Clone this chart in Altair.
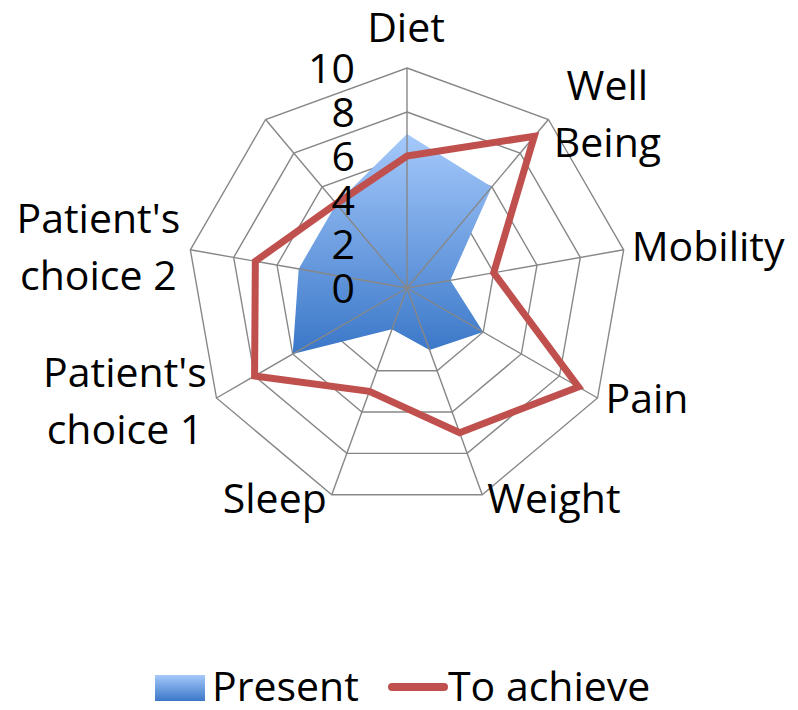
import altair as alt
import pandas as pd
import numpy as np

# ---------------- data ----------------
categories = ["Diet", "Well Being", "Mobility", "Pain", "Weight", "Sleep",
              "Patient's choice 1", "Patient's choice 2", ""]
present = [7, 6, 2, 4, 3, 2, 6, 5, 5]
to_achieve = [6, 9, 4, 9, 7, 5, 8, 7, 5]
tick_values = [0, 2, 4, 6, 8, 10]
series_names = ["Present", "To achieve"]

# ---------------- layout ----------------
W, H = 782, 694
K = 22.0            # pixels per unit
CX, CY = 399, 280   # centre in plot coords
xdom = [-CX / K, (W - CX) / K]
ydom = [-(H - CY) / K, CY / K]
FONT = "Open Sans"
FS = 41
n = len(categories)
ang = np.arange(n) * 2 * np.pi / n
rmax = max(tick_values)

# label placement: align, pixel offset from outer vertex (dx, dy to baseline)
label_layout = {
    "Diet": ("center", -1, -26),
    "Well Being": ("center", 59, -19.5),
    "Mobility": ("left", 8, 11),
    "Pain": ("left", 8, 15),
    "Weight": ("left", 5, 18),
    "Sleep": ("right", -5, 18),
    "Patient's choice 1": ("center", -91.5, -11),
    "Patient's choice 2": ("center", -92, -17),
}
wrapped = {"Well Being": "Well\nBeing",
           "Patient's choice 1": "Patient's\nchoice 1",
           "Patient's choice 2": "Patient's\nchoice 2"}

xs = alt.Scale(domain=xdom, nice=False, zero=False)
ys = alt.Scale(domain=ydom, nice=False, zero=False)
X = lambda f: alt.X(f, type="quantitative", scale=xs, axis=None)
Y = lambda f: alt.Y(f, type="quantitative", scale=ys, axis=None)

# series table
rows = []
for name, vals in zip(series_names, [present, to_achieve]):
    for k, v in enumerate(vals):
        rows.append({"series": name, "k": k, "cat": categories[k], "v": v,
                     "x": v * np.sin(ang[k]), "y": v * np.cos(ang[k])})
sdf = pd.DataFrame(rows)

# grid rings
grid_rows = []
for lv in tick_values[1:]:
    for k in range(n):
        grid_rows.append({"lv": lv, "k": k, "x": lv * np.sin(ang[k]), "y": lv * np.cos(ang[k])})
gdf = pd.DataFrame(grid_rows)

spoke_df = pd.DataFrame({"k": range(n), "x0": 0.0, "y0": 0.0,
                         "x": rmax * np.sin(ang), "y": rmax * np.cos(ang)})

grid_color = "#878787"
rings = alt.Chart(gdf).mark_line(interpolate="linear-closed", color=grid_color, strokeWidth=1.4).encode(
    x=X("x"), y=Y("y"), detail="lv:N", order="k:Q")

spokes = alt.Chart(spoke_df).mark_rule(color=grid_color, strokeWidth=1.4).encode(
    x=X("x0"), y=Y("y0"), x2="x", y2="y")

blue_grad = alt.Gradient(gradient="linear",
                         stops=[alt.GradientStop(color="#A5C9FB", offset=0),
                                alt.GradientStop(color="#3A77C8", offset=1)],
                         x1=0, x2=0, y1=0, y2=1)

area = alt.Chart(sdf[sdf.series == "Present"]).mark_line(
    interpolate="linear-closed", fill=blue_grad, stroke=None, strokeWidth=0).encode(
    x=X("x"), y=Y("y"), order="k:Q")

red = alt.Chart(sdf[sdf.series == "To achieve"]).mark_line(
    interpolate="linear-closed", color="#C0504D", strokeWidth=7, strokeJoin="miter").encode(
    x=X("x"), y=Y("y"), order="k:Q")

tick_df = pd.DataFrame({"v": tick_values, "x": 0.0, "lab": [str(t) for t in tick_values]})
ticks = alt.Chart(tick_df).mark_text(align="right", baseline="alphabetic", dx=-52, dy=14.5,
                                     font=FONT, fontSize=FS, color="black").encode(
    x=X("x"), y=Y("v"), text="lab:N")

lab_layers = []
for k, c in enumerate(categories):
    if c not in label_layout:
        continue
    al, dxp, dyp = label_layout[c]
    vx = rmax * np.sin(ang[k]) + dxp / K
    vy = rmax * np.cos(ang[k]) - dyp / K
    d = pd.DataFrame({"x": [vx], "y": [vy], "t": [wrapped.get(c, c)]})
    lab_layers.append(alt.Chart(d).mark_text(align=al, baseline="alphabetic", font=FONT, fontSize=FS,
                                             lineBreak="\n", lineHeight=57, color="black").encode(
        x=X("x"), y=Y("y"), text="t:N"))

# legend (pixel layout)
leg_df = pd.DataFrame({"s": [series_names[0]]})
leg_rect = alt.Chart(leg_df).mark_rect(fill=blue_grad).encode(
    x=alt.value(147), x2=alt.value(197), y=alt.value(667), y2=alt.value(693))
leg_t1 = alt.Chart(leg_df).mark_text(align="left", baseline="alphabetic", font=FONT, fontSize=FS,
                                     color="black").encode(
    x=alt.value(204), y=alt.value(693), text=alt.value(series_names[0]))
leg_rule = alt.Chart(leg_df).mark_rule(color="#C0504D", strokeWidth=8, strokeCap="round").encode(
    x=alt.value(384), x2=alt.value(436), y=alt.value(679))
leg_t2 = alt.Chart(leg_df).mark_text(align="left", baseline="alphabetic", font=FONT, fontSize=FS,
                                     color="black").encode(
    x=alt.value(440), y=alt.value(693), text=alt.value(series_names[1]))

chart = alt.layer(rings, area, spokes, red, ticks, *lab_layers, leg_rect, leg_t1, leg_rule, leg_t2).properties(
    width=W, height=H, padding=0
).configure_view(stroke=None)

chart.save("out.html", embed_options={"renderer": "svg", "actions": False})
